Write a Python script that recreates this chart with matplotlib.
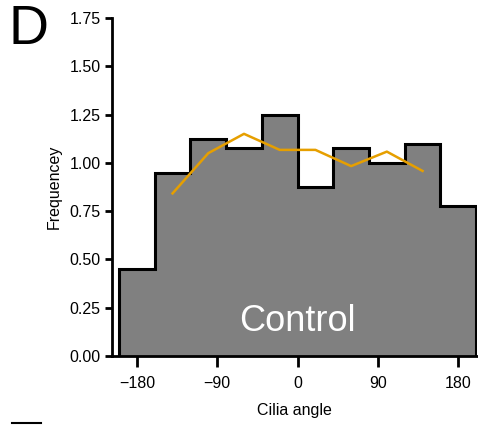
import numpy as np
import matplotlib
matplotlib.use('Agg')
import matplotlib.pyplot as plt

plt.rcParams['font.family'] = ['Liberation Sans', 'DejaVu Sans']

# histogram bins (cilia angle, degrees)
bin_edges = [-200, -160, -120, -80, -40, 0, 40, 80, 120, 160, 200]
freq = [0.45, 0.95, 1.125, 1.075, 1.25, 0.875, 1.075, 1.0, 1.1, 0.775]

# smoothed line
line_x = [-140, -100, -60, -20, 20, 60, 100, 140]
line_y = [0.842, 1.05, 1.15, 1.067, 1.067, 0.983, 1.058, 0.958]

fig = plt.figure(figsize=(4.78, 4.25), dpi=100)
ax = fig.add_axes([0.234, 0.162, 0.764, 0.796])

ax.stairs(freq, bin_edges, fill=True, facecolor='#808080', edgecolor='none')
ax.stairs(freq, bin_edges, baseline=0, color='black', lw=2.2)
ax.plot(line_x, line_y, color='#E69F00', lw=1.8)

ax.set_xlim(-208, 201)
ax.set_ylim(0, 1.75)
ax.set_xticks([-180, -90, 0, 90, 180])
ax.set_xticklabels(['\u2212180', '\u221290', '0', '90', '180'])
ax.set_yticks(np.arange(0, 1.76, 0.25))
ax.set_yticklabels(['%.2f' % v for v in np.arange(0, 1.76, 0.25)])

for s in ['top', 'right']:
    ax.spines[s].set_visible(False)
for s in ['left', 'bottom']:
    ax.spines[s].set_linewidth(2)
ax.tick_params(width=2, labelsize=11.5)
ax.tick_params(axis='x', length=8, pad=6)
ax.tick_params(axis='y', length=5, pad=3)

ax.set_xlabel('Cilia angle', fontsize=11.5, labelpad=9)
ax.set_ylabel('Frequencey', fontsize=11.5, labelpad=6)

ax.text(0, 0.18, 'Control', color='white', fontsize=26, ha='center', va='center')
fig.text(0.06, 0.93, 'D', fontsize=40, ha='center', va='center')
fig.add_artist(plt.Line2D([0.025, 0.085], [0.005, 0.005], color='black', lw=1.5))

fig.savefig('out.png', dpi=100)
